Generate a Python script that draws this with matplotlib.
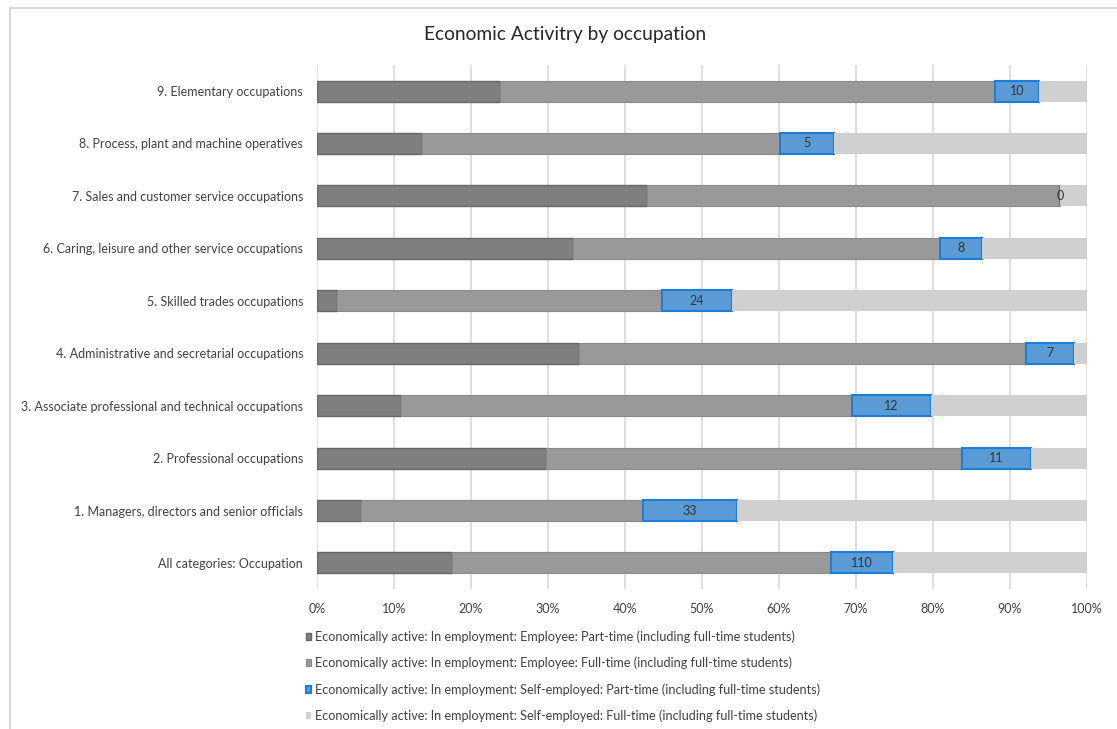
import matplotlib.pyplot as plt
import numpy as np
from matplotlib.patches import Rectangle

plt.rcParams['font.family'] = ['Lato', 'DejaVu Sans']

# categories, bottom to top
categories = [
    'All categories: Occupation',
    '1. Managers, directors and senior officials',
    '2. Professional occupations',
    '3. Associate professional and technical occupations',
    '4. Administrative and secretarial occupations',
    '5. Skilled trades occupations',
    '6. Caring, leisure and other service occupations',
    '7. Sales and customer service occupations',
    '8. Process, plant and machine operatives',
    '9. Elementary occupations',
]

# shares (%)
emp_part = [17.5, 5.7, 29.7, 10.9, 34.0, 2.6, 33.2, 42.9, 13.6, 23.8]
emp_full = [49.3, 36.6, 54.1, 58.6, 58.1, 42.2, 47.7, 53.6, 46.5, 64.3]
self_part = [8.0, 12.2, 8.9, 10.2, 6.2, 9.1, 5.5, 0.0, 7.0, 5.7]
self_full = [25.2, 45.5, 7.3, 20.3, 1.7, 46.1, 13.6, 3.5, 32.9, 6.2]

# counts shown on the self-employed part-time segment
self_part_counts = [110, 33, 11, 12, 7, 24, 8, 0, 5, 10]

series_names = [
    'Economically active: In employment: Employee: Part-time (including full-time students)',
    'Economically active: In employment: Employee: Full-time (including full-time students)',
    'Economically active: In employment: Self-employed: Part-time (including full-time students)',
    'Economically active: In employment: Self-employed: Full-time (including full-time students)',
]
face_colors = ['#7f7f7f', '#999999', '#5b9bd5', '#d0d0d0']
edge_colors = ['#666666', '#8a8a8a', '#1c7ed6', '#d0d0d0']
edge_widths = [1.0, 0.8, 1.5, 0.0]

fig = plt.figure(figsize=(11.17, 7.29), dpi=100)
ax = fig.add_axes([0.2838, 0.1918, 0.6893, 0.7193])

y = np.arange(len(categories))
left = np.zeros(len(categories))
all_series = [emp_part, emp_full, self_part, self_full]
for vals, name, fc, ec, lw in zip(all_series, series_names, face_colors, edge_colors, edge_widths):
    vals = np.array(vals)
    ax.barh(y, vals, left=left, height=0.4, color=fc, edgecolor=ec,
            linewidth=lw, label=name, zorder=3)
    if fc == '#5b9bd5':
        for yi, l, v, c in zip(y, left, vals, self_part_counts):
            ax.text(l + v / 2, yi, str(c), ha='center', va='center',
                    fontsize=9, color='#333333', zorder=4)
    left = left + vals

ax.set_xlim(0, 100)
ax.set_ylim(-0.5, len(categories) - 0.5)
ax.set_xticks(np.arange(0, 101, 10))
ax.set_xticklabels([f'{v}%' for v in range(0, 101, 10)])
ax.set_yticks(y)
ax.set_yticklabels(categories)
ax.tick_params(axis='both', length=0, labelsize=9, labelcolor='#404040')
ax.tick_params(axis='y', pad=10)
ax.tick_params(axis='x', pad=10)
ax.grid(axis='x', color='#d9d9d9', linewidth=1.2, zorder=0)
for s in ax.spines.values():
    s.set_visible(False)

fig.text(0.506, 0.952, 'Economic Activitry by occupation', ha='center', va='center',
         fontsize=13.8, color='#262626')

fig.legend(loc='upper left', bbox_to_anchor=(0.268, 0.144), frameon=False,
           fontsize=9.1, handlelength=0.45, handleheight=0.45, handletextpad=0.3,
           labelspacing=1.1, borderpad=0, labelcolor='#404040')

# chart border
fig.patches.append(Rectangle((10 / 1117, -0.01), 1.02, 1 - 8 / 729 + 0.01,
                             transform=fig.transFigure, fill=False,
                             edgecolor='#d0d0d0', linewidth=1.2))

fig.savefig('out.png', dpi=100)
